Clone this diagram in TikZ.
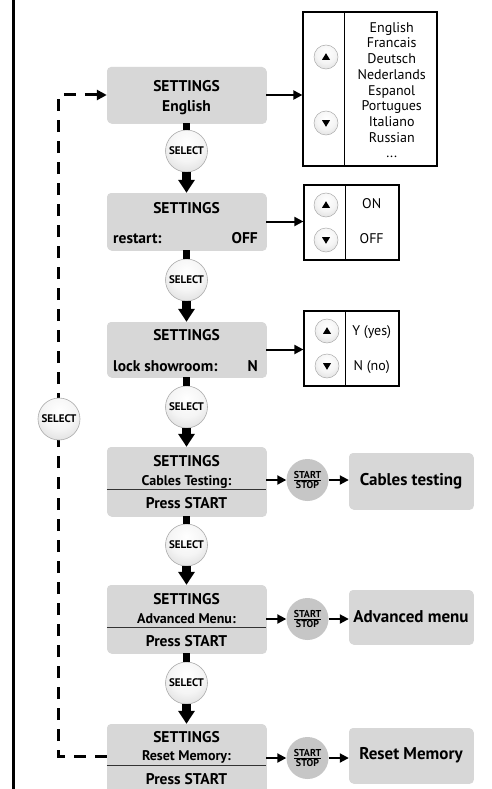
\documentclass[tikz,border=0pt]{standalone}
\usepackage{fontspec}
\setmainfont{PT Sans}
\usetikzlibrary{arrows.meta,shadows}
\definecolor{boxgray}{HTML}{D7D7D7}
\definecolor{ssgray}{HTML}{C6C6C6}
\pgfdeclareradialshading{btnshade}{\pgfpoint{0bp}{10bp}}{color(0bp)=(white); color(20bp)=(white!96!black); color(60bp)=(gray!55); color(100bp)=(gray!55)}
\newcommand\uptri[1]{\fill ([shift={(-4,2.8)}]#1.center) -- ([shift={(4,2.8)}]#1.center) -- ([shift={(0,-3.8)}]#1.center) -- cycle;}
\newcommand\dntri[1]{\fill ([shift={(-4,-2.8)}]#1.center) -- ([shift={(4,-2.8)}]#1.center) -- ([shift={(0,3.8)}]#1.center) -- cycle;}
\begin{document}
\begin{tikzpicture}[x=1pt,y=-1pt,
  setbox/.style={fill=boxgray, rounded corners=4pt, minimum width=159pt, inner sep=0pt,
    drop shadow={shadow xshift=0.8pt, shadow yshift=-0.8pt, opacity=0.3, fill=gray}},
  resbox/.style={fill=boxgray, rounded corners=4pt, minimum width=124pt, inner sep=0pt,
    font=\bfseries\fontsize{17}{20}\selectfont,
    drop shadow={shadow xshift=0.8pt, shadow yshift=-0.8pt, opacity=0.3, fill=gray}},
  ttl/.style={font=\bfseries\fontsize{15.5}{18}\selectfont, inner sep=0pt, anchor=base},
  sub/.style={font=\bfseries\fontsize{14}{16}\selectfont, inner sep=0pt, anchor=base},
  selbtn/.style={circle, minimum size=42pt, inner sep=0pt, shading=btnshade, draw=gray!65, line width=0.6pt,
    font=\bfseries\fontsize{11}{12}\selectfont},
  ssbtn/.style={circle, minimum size=42pt, inner sep=0pt, fill=ssgray, align=center,
    font=\bfseries\fontsize{10}{10}\selectfont},
  arrbtn/.style={circle, minimum size=24pt, inner sep=0pt, shading=btnshade, draw=gray!65, line width=0.5pt},
  listbox/.style={draw, line width=1.2pt, inner sep=0pt},
  listtxt/.style={font=\fontsize{14}{15}\selectfont, inner sep=0pt, anchor=base},
  stem/.style={line width=7pt},
  bigarrow/.style={line width=9pt, -{Triangle[length=13pt,width=16pt]}},
  arr/.style={line width=2pt, -{Triangle[length=9pt,width=9pt]}},
  dashline/.style={line width=3pt, dash pattern=on 12pt off 9pt, -{Triangle[length=10pt,width=10pt]}}
]
\useasboundingbox (0,0) rectangle (492,789);
\clip (0,0) rectangle (492,789);
\fill[white] (0,0) rectangle (492,789);

% left frame line
\draw[line width=2.5pt] (13.5,-5) -- (13.5,795);

% settings boxes
\node[setbox, minimum height=56pt] (B1) at (186.5,95) {};
\node[setbox, minimum height=57pt] (B2) at (186.5,221.5) {};
\node[setbox, minimum height=55pt] (B3) at (186.5,349.5) {};
\node[setbox, minimum height=69pt] (B4) at (186.5,481.5) {};
\node[setbox, minimum height=68pt] (B5) at (186.5,619) {};
\node[setbox, minimum height=69pt] (B6) at (186.5,758.5) {};

% texts in settings boxes
\node[ttl] (t1a) at (186.5,91.7) {SETTINGS};
\node[ttl] (t1b) at (186.5,111.3) {English};
\node[ttl] (t2a) at (186.5,213.3) {SETTINGS};
\node[ttl, anchor=base west] (t2b) at (113,243.3) {restart:};
\node[ttl, anchor=base east] (t2c) at (258,243.3) {OFF};
\node[ttl] (t3a) at (186.5,340.7) {SETTINGS};
\node[ttl, anchor=base west] (t3b) at (113,371) {lock showroom:};
\node[ttl, anchor=base east] (t3c) at (258,371) {N};
\node[ttl] (t4a) at (186.5,466.7) {SETTINGS};
\node[sub] (t4b) at (186.5,485.3) {Cables Testing:};
\node[ttl] (t4c) at (186.5,508.3) {Press START};
\node[ttl] (t5a) at (186.5,604.7) {SETTINGS};
\node[sub] (t5b) at (186.5,623) {Advanced Menu:};
\node[ttl] (t5c) at (186.5,646.3) {Press START};
\node[ttl] (t6a) at (186.5,742.3) {SETTINGS};
\node[sub] (t6b) at (186.5,760.7) {Reset Memory:};
\node[ttl] (t6c) at (186.5,784) {Press START};
\coordinate (h4) at (0,489);
\coordinate (h5) at (0,627);
\coordinate (h6) at (0,765);
\draw[line width=0.8pt, black!80] (B4.west |- h4) -- (B4.east |- h4);
\draw[line width=0.8pt, black!80] (B5.west |- h5) -- (B5.east |- h5);
\draw[line width=0.8pt, black!80] (B6.west |- h6) -- (B6.east |- h6);

% result boxes
\node[resbox, minimum height=56pt] (R1) at (411,481) {Cables testing};
\node[resbox, minimum height=54pt] (R2) at (411,617) {Advanced menu};
\node[resbox, minimum height=55pt] (R3) at (411,755.5) {Reset Memory};

% select buttons
\node[selbtn] (S1) at (186.5,151) {SELECT};
\node[selbtn] (S2) at (186.5,280) {SELECT};
\node[selbtn] (S3) at (186.5,407) {SELECT};
\node[selbtn] (S4) at (186.5,545) {SELECT};
\node[selbtn] (S5) at (186.5,683) {SELECT};

% start/stop buttons
\node[ssbtn] (T1) at (307.5,480) {\underline{START}\\STOP};
\node[ssbtn] (T2) at (307.5,619) {\underline{START}\\STOP};
\node[ssbtn] (T3) at (307.5,758) {\underline{START}\\STOP};

% list boxes
\node[listbox, minimum width=134pt, minimum height=154pt] (L1) at (370,89) {};
\node[listbox, minimum width=95pt, minimum height=75pt] (L2) at (351.5,222.5) {};
\node[listbox, minimum width=95pt, minimum height=75pt] (L3) at (351.5,348.5) {};
\draw[line width=1.2pt] ([xshift=42pt]L1.north west) -- ([xshift=42pt]L1.south west);
\draw[line width=1.2pt] ([xshift=42pt]L2.north west) -- ([xshift=42pt]L2.south west);
\draw[line width=1.2pt] ([xshift=42pt]L3.north west) -- ([xshift=42pt]L3.south west);

\foreach \w [count=\i] in {English,Francais,Deutsch,Nederlands,Espanol,Portugues,Italiano,Russian}
  \node[listtxt] (lang\i) at (391.7,{32.3+15.7*(\i-1)}) {\w};
\node[listtxt] (lang9) at (391.7,157.9) {...};
\node[listtxt] (on) at (371.7,208.3) {ON};
\node[listtxt] (off) at (371.7,243.3) {OFF};
\node[listtxt] (yes) at (371.7,335) {Y (yes)};
\node[listtxt] (no) at (371.7,370) {N (no)};

% arrow buttons
\node[arrbtn] (U1) at (326,57) {};
\node[arrbtn] (D1) at (326,123) {};
\node[arrbtn] (U2) at (326,205) {};
\node[arrbtn] (D2) at (326,240) {};
\node[arrbtn] (U3) at (327,331) {};
\node[arrbtn] (D3) at (327,366) {};
\uptri{U1} \dntri{D1} \uptri{U2} \dntri{D2} \uptri{U3} \dntri{D3}

% dashed return loop
\coordinate (c6) at ([yshift=2.5pt]B6.west);
\draw[dashline] (c6) -- ++(-48,0) |- (B1.west);
\node[selbtn] (S0) at (59,419) {SELECT};

% vertical flow
\draw[stem] (B1.south) -- (S1.north);
\draw[bigarrow] (S1.south) -- (B2.north);
\draw[stem] (B2.south) -- (S2.north);
\draw[bigarrow] (S2.south) -- (B3.north);
\draw[stem] (B3.south) -- (S3.north);
\draw[bigarrow] (S3.south) -- (B4.north);
\draw[stem] (B4.south) -- (S4.north);
\draw[bigarrow] (S4.south) -- (B5.north);
\draw[stem] (B5.south) -- (S5.north);
\draw[bigarrow] (S5.south) -- (B6.north);

% horizontal arrows
\draw[arr] (B1.east) -- (L1.west |- B1.east);
\draw[arr] (B2.east) -- (L2.west |- B2.east);
\draw[arr] (B3.east) -- (L3.west |- B3.east);
\draw[arr] (B4.east |- T1) -- (T1);
\draw[arr] (T1) -- (R1.west |- T1);
\draw[arr] (B5.east |- T2) -- (T2);
\draw[arr] (T2) -- (R2.west |- T2);
\draw[arr] (B6.east |- T3) -- (T3);
\draw[arr] (T3) -- (R3.west |- T3);
\end{tikzpicture}
\end{document}
